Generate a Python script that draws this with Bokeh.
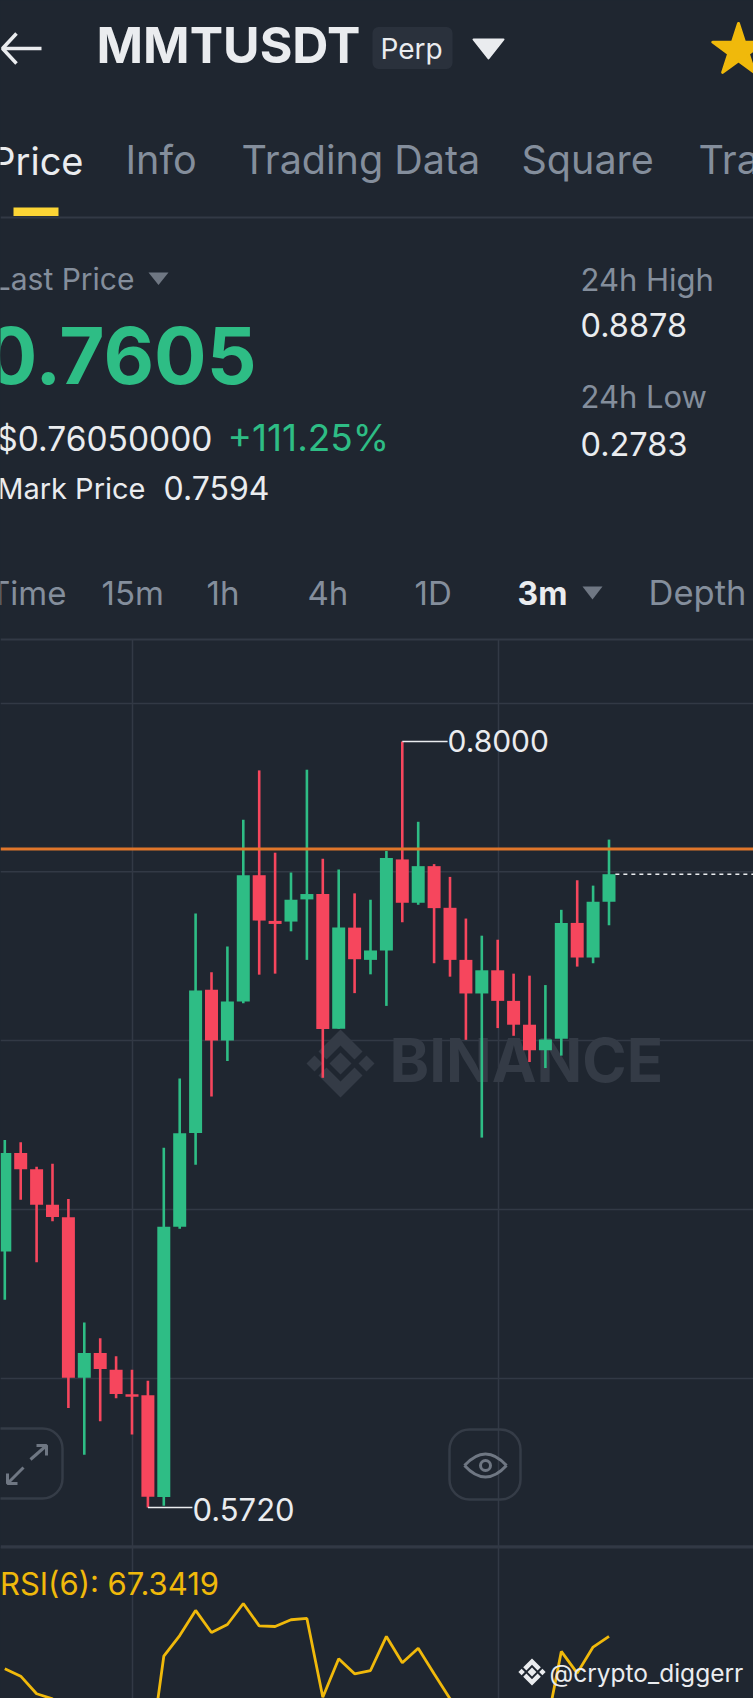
from bokeh.plotting import figure
from bokeh.models import Range1d, GlobalInlineStyleSheet
from bokeh.core.properties import value
from bokeh.embed import file_html
from bokeh.resources import INLINE

# ---- data ----
opens  = [.6482,.6775,.6727,.6621,.6584,.6106,.6180,.6130,.6057,.6054,.5751,.6556,.6835,
          .7261,.7110,.7226,.7602,.7466,.7464,.7530,.7546,.7145,.7446,.7350,.7378,.7649,
          .7520,.7629,.7505,.7350,.7250,.7319,.7228,.7157,.7081,.7115,.7460,.7357,.7523]
closes = [.6775,.6727,.6621,.6585,.6106,.6180,.6132,.6058,.6050,.5752,.6556,.6834,.7259,
          .7110,.7226,.7602,.7467,.7457,.7529,.7546,.7144,.7446,.7352,.7378,.7653,.7520,
          .7629,.7504,.7350,.7250,.7319,.7228,.7157,.7081,.7113,.7460,.7357,.7523,.7605]
highs  = [.6814,.6807,.6734,.6743,.6638,.6271,.6224,.6170,.6130,.6097,.6791,.6997,.7488,
          .7313,.7390,.7767,.7914,.7669,.7610,.7916,.7651,.7619,.7548,.7529,.7674,.8000,
          .7761,.7635,.7597,.7473,.7422,.7410,.7309,.7303,.7275,.7499,.7587,.7571,.7708]
lows   = [.6338,.6636,.6450,.6572,.6016,.5877,.5977,.6045,.5937,.5720,.5725,.6550,.6740,
          .6943,.7049,.7221,.7306,.7309,.7435,.7350,.6999,.7145,.7251,.7307,.7213,.7462,
          .7514,.7340,.7300,.7112,.6821,.7147,.7124,.7046,.7028,.7065,.7330,.7340,.7453]
rsi6   = [52.4,49.0,40.9,38.6,10,22,20,15,14,5,58.2,67.7,79.3,69.1,72.8,82.5,72.2,71.9,75.0,75.6,
          39.3,57.0,50.1,51.6,67.3,55.2,61.9,50.1,38.6,30,25,22,18,16,23,60.4,50.4,62.4,67.34]
price_grid = [.8113,.7612,.7110,.6607,.6104,.5600]
ref_price = .7680
last_price = .7605
pair = "MMTUSDT"
tabs = ["Info","Trading Data","Square","Tra"]
intervals = ["15m","1h","4h","1D"]

BG = "#1f2630"; LINE = "#323945"; WHITE = "#eaecef"; GREY = "#848e9c"
GREEN = "#2ebd85"; RED = "#f6465d"; YEL = "#f0b90b"; WM = "#343b46"; ICON = "#6f7783"
FONT = "Inter"
W, H = 753, 1698

p = figure(width=W, height=H, x_range=(0,W), y_range=(H,0), min_border=0,
           toolbar_location=None, output_backend="svg", background_fill_color=BG,
           border_fill_color=BG, outline_line_color=None,
           x_axis_location=None, y_axis_location=None)
p.grid.visible = False
p.stylesheets = [GlobalInlineStyleSheet(css="html,body{background:%s;}" % BG)]

def py(y): return .8-(y-741)*.00029765
p.extra_y_ranges = {"price": Range1d(py(H), py(0)),
                    "rsi": Range1d(100-(H-1565)/2.17, 100-(0-1565)/2.17)}
p.extra_x_ranges = {"idx": Range1d((0-4.3)/15.9, (W-4.3)/15.9)}

def txt(x, y, s, size, color=WHITE, align="left", bold=False):
    # the renderer puts this baseline about 0.37 em below y
    p.text(x=[x], y=[y-.37*size], text=[s], text_font=value(FONT), text_font_size=f"{size}px",
           text_color=color, text_align=align, text_baseline="alphabetic",
           text_font_style="bold" if bold else "normal")

def logo(cx, cy, k, color):
    def d(x, y, h): return [cx+k*(x-h), cx+k*x, cx+k*(x+h), cx+k*x], [cy+k*y, cy+k*(y-h), cy+k*y, cy+k*(y+h)]
    for x, y, h in [(0,0,11),(-26,0,8),(26,0,8)]:
        xs, ys = d(x, y, h); p.patch(xs, ys, fill_color=color, line_color=None)
    for sg in (1,-1):
        xs = [0,22,14,0,-14,-22]; ys = [-34,-12,-4,-18,-4,-12]
        p.patch([cx+k*v for v in xs], [cy+k*sg*v for v in ys], fill_color=color, line_color=None)

# ---- header ----
p.line([2,41],[48,48],line_color=WHITE,line_width=3.5)
p.line([16,2,16],[33,48,63],line_color=WHITE,line_width=3.5)
txt(96, 63, pair, 50, bold=True)
p.quad(left=[372],right=[452],top=[26.5],bottom=[68.5],fill_color="#2a313c",line_color=None,border_radius=6)
txt(380, 59, "Perp", 28)
p.patch([473,503,488],[39,39,58],fill_color=WHITE,line_color=WHITE,line_width=2,line_join="round")
p.scatter(x=[738],y=[50],marker="star",size=54,fill_color=YEL,line_color=YEL,line_width=3,line_join="round")

txt(83, 174.5, "Price", 38, align="right")
for x, s in zip([125,241,521,698], tabs):
    txt(x, 174.5, s, 39.5, GREY)
p.quad(left=[13],right=[58],top=[207],bottom=[215.5],fill_color="#fcd535",line_color=None)
p.segment(x0=[0],x1=[W],y0=[217],y1=[217],line_color=LINE,line_width=2)

txt(134, 290, "Last Price", 30, GREY, "right")
p.patch([148,168,158],[272,272,284.5],fill_color="#6f7783",line_color=None)
txt(256, 384, "0.7605", 78, GREEN, "right", True)
txt(212, 451, "$0.76050000", 33.5, WHITE, "right")
txt(227, 451, "+111.25%", 37, GREEN)
txt(145, 499, "Mark Price", 29, WHITE, "right")
txt(163, 499, "0.7594", 32)
txt(580, 290, "24h High", 31, GREY)
txt(580, 337, "0.8878", 32.5)
txt(580, 407, "24h Low", 31, GREY)
txt(580, 456, "0.2783", 32.5)

txt(66, 605, "Time", 33, GREY, "right")
for x, s in zip([101,206,307,414], intervals):
    txt(x, 605, s, 33, GREY)
txt(517, 605, "3m", 32, WHITE, bold=True)
p.patch([582,602,592],[586,586,599],fill_color="#6f7783",line_color=None)
txt(648, 605, "Depth", 34.5, GREY)
p.segment(x0=[0],x1=[W],y0=[639],y1=[639],line_color=LINE,line_width=2)

# ---- grid, watermark ----
p.segment(x0=[132,498],x1=[132,498],y0=[639,639],y1=[H,H],line_color=LINE,line_width=1.5)
p.segment(x0=[0]*len(price_grid),x1=[W]*len(price_grid),y0=price_grid,y1=price_grid,
          y_range_name="price",line_color=LINE,line_width=1.5)
logo(340,1063,1.0,WM)
txt(389,1082,"BINANCE",60,WM,bold=True)

# ---- candles ----
idx = list(range(len(opens)))
for i in (0,1):
    ids = [k for k in idx if (closes[k] >= opens[k]) == (i==0)]
    c = GREEN if i==0 else RED
    p.segment(x0=ids,x1=ids,y0=[lows[k] for k in ids],y1=[highs[k] for k in ids],
              x_range_name="idx",y_range_name="price",line_color=c,line_width=2.6)
    p.vbar(x=ids,width=.8176,bottom=[min(opens[k],closes[k]) for k in ids],top=[max(opens[k],closes[k]) for k in ids],
           x_range_name="idx",y_range_name="price",fill_color=c,line_color=None)

# price lines and extremes
p.segment(x0=[0],x1=[W],y0=[ref_price],y1=[ref_price],y_range_name="price",line_color="#e0762b",line_width=3)
p.segment(x0=[38.4],x1=[47.2],y0=[last_price],y1=[last_price],x_range_name="idx",y_range_name="price",
          line_color=WHITE,line_width=1.6,line_dash="4 4")
hi = highs.index(max(highs)); lo = lows.index(min(lows))
p.segment(x0=[hi],x1=[27.85],y0=[highs[hi]],y1=[highs[hi]],x_range_name="idx",y_range_name="price",line_color=WHITE,line_width=1.5)
p.segment(x0=[lo],x1=[11.8],y0=[lows[lo]],y1=[lows[lo]],x_range_name="idx",y_range_name="price",line_color=WHITE,line_width=1.5)
txt(447, 752, f"{highs[hi]:.4f}", 30)
txt(192, 1520, f"{lows[lo]:.4f}", 31)

# ---- buttons ----
p.quad(left=[-20,449],right=[62,520],top=[1428,1429],bottom=[1498,1499],fill_color=None,line_color="#353c47",
       line_width=2.5,border_radius=20)
for xs, ys in [([30,46],[1459,1445]),([36,46,46],[1445,1445,1455]),([7,23],[1483,1467]),([7,7,17],[1473,1483,1483])]:
    p.line(xs,ys,line_color=ICON,line_width=3)
p.quadratic(x0=[464,464],y0=[1465,1465],x1=[506,506],y1=[1465,1465],cx=[485,485],cy=[1442,1488],line_color=ICON,line_width=3)
p.scatter(x=[485],y=[1465],marker="circle",size=10,fill_color=None,line_color=ICON,line_width=3)

# ---- RSI ----
p.segment(x0=[0],x1=[W],y0=[1546],y1=[1546],line_color=LINE,line_width=2.5)
txt(218.5, 1594, "RSI(6): 67.3419", 31, YEL, "right")
p.line(idx,rsi6,x_range_name="idx",y_range_name="rsi",line_color=YEL,line_width=2.8)

# ---- bottom mark ----
logo(531.5,1671.5,.4,WHITE)
txt(549,1682,"@crypto_diggerr",24.5)

open("out.html","w").write(file_html(p, INLINE))
